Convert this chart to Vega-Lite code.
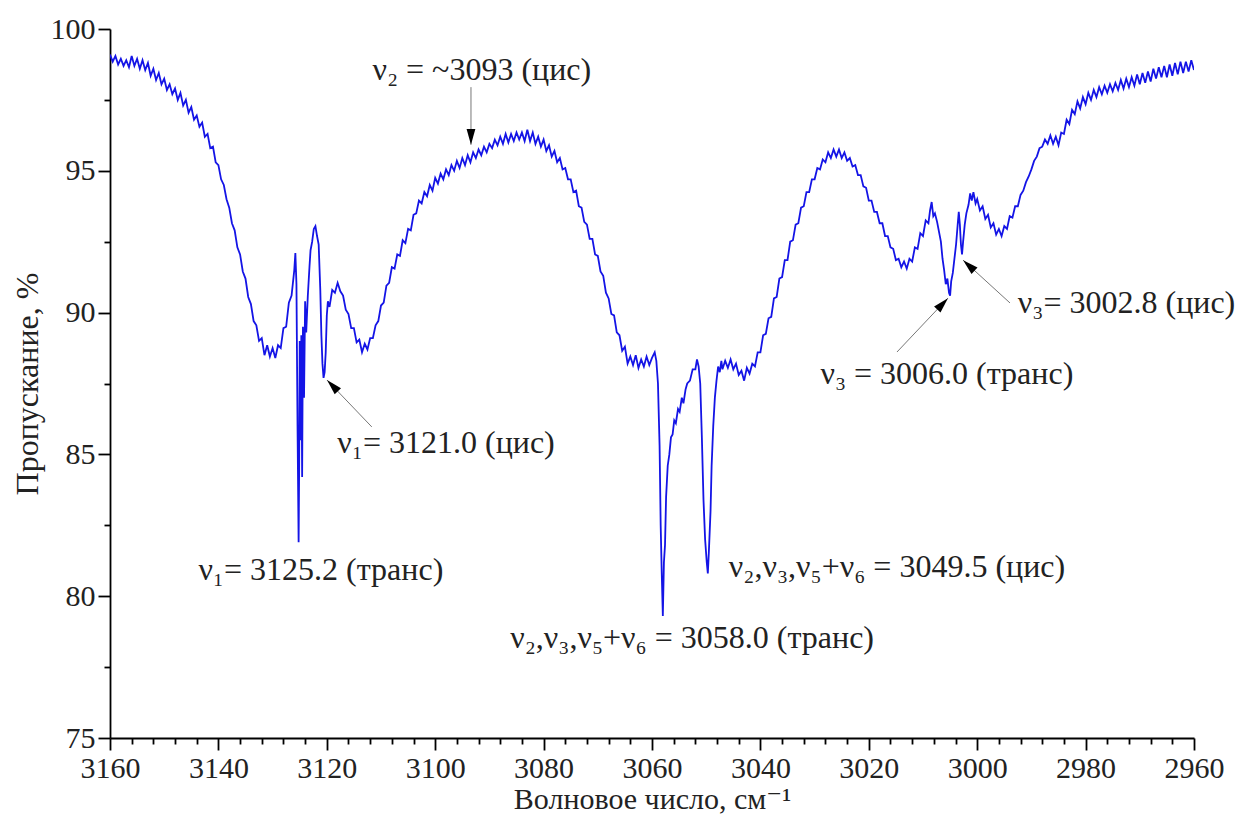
{
  "$schema": "https://vega.github.io/schema/vega-lite/v6.json",
  "width": 1084,
  "height": 709,
  "autosize": {"type": "none"},
  "padding": {"left": 110, "top": 29, "right": 49, "bottom": 85},
  "background": "white",
  "config": {"font": "'Liberation Serif', 'Times New Roman', 'DejaVu Serif', serif", "view": {"stroke": null}},
  "datasets": {
    "spec": [
      {"w":3160,"t":99.1},{"w":3159.5,"t":98.85},{"w":3159,"t":99.05},{"w":3158.5,"t":98.75},{"w":3158,"t":98.95},{"w":3157.5,"t":98.7},{"w":3157,"t":98.9},{"w":3156.5,"t":98.65},{"w":3156,"t":99.05},{"w":3155.5,"t":98.7},{"w":3155,"t":98.95},{"w":3154.5,"t":98.6},{"w":3154,"t":98.9},{"w":3153.5,"t":98.55},{"w":3153,"t":98.8},{"w":3152.5,"t":98.35},{"w":3152,"t":98.6},{"w":3151.5,"t":98.2},{"w":3151,"t":98.45},{"w":3150.5,"t":98.05},{"w":3150,"t":98.25},{"w":3149.5,"t":97.85},{"w":3149,"t":98.05},{"w":3148.5,"t":97.7},{"w":3148,"t":97.9},{"w":3147.5,"t":97.5},{"w":3147,"t":97.75},{"w":3146.5,"t":97.3},{"w":3146,"t":97.5},{"w":3145.5,"t":97.05},{"w":3145,"t":97.25},{"w":3144.5,"t":96.8},{"w":3144,"t":96.95},{"w":3143.5,"t":96.55},{"w":3143,"t":96.7},{"w":3142.5,"t":96.2},{"w":3142,"t":96.3},{"w":3141.5,"t":95.8},{"w":3141,"t":95.85},{"w":3140.5,"t":95.3},{"w":3140,"t":95.2},{"w":3139.5,"t":94.7},{"w":3139,"t":94.5},{"w":3138.5,"t":94.0},{"w":3138,"t":93.7},{"w":3137.5,"t":93.15},{"w":3137,"t":92.9},{"w":3136.5,"t":92.3},{"w":3136,"t":92.05},{"w":3135.5,"t":91.45},{"w":3135,"t":91.2},{"w":3134.5,"t":90.55},{"w":3134,"t":90.3},{"w":3133.5,"t":89.7},{"w":3133,"t":89.55},{"w":3132.5,"t":89.0},{"w":3132,"t":89.1},{"w":3131.5,"t":88.5},{"w":3131,"t":88.85},{"w":3130.5,"t":88.45},{"w":3130,"t":88.75},{"w":3129.5,"t":88.4},{"w":3129,"t":88.85},{"w":3128.5,"t":88.75},{"w":3128,"t":89.45},{"w":3127.5,"t":89.5},{"w":3127,"t":90.35},{"w":3126.5,"t":90.6},{"w":3126,"t":91.5},{"w":3125.8,"t":92.1},{"w":3125.6,"t":91.0},{"w":3125.4,"t":86.0},{"w":3125.2,"t":81.9},{"w":3125.1,"t":84.5},{"w":3125.0,"t":89.0},{"w":3124.85,"t":85.5},{"w":3124.7,"t":89.2},{"w":3124.55,"t":84.2},{"w":3124.4,"t":89.5},{"w":3124.2,"t":87.0},{"w":3124.0,"t":90.4},{"w":3123.8,"t":89.3},{"w":3123.5,"t":90.6},{"w":3123.2,"t":91.6},{"w":3123,"t":92.2},{"w":3122.7,"t":92.5},{"w":3122.4,"t":92.95},{"w":3122.1,"t":93.05},{"w":3121.8,"t":92.7},{"w":3121.5,"t":92.4},{"w":3121.2,"t":90.8},{"w":3121,"t":89.2},{"w":3120.8,"t":88.2},{"w":3120.6,"t":87.7},{"w":3120.4,"t":87.9},{"w":3120.2,"t":88.6},{"w":3120,"t":89.9},{"w":3119.8,"t":90.4},{"w":3119.5,"t":90.2},{"w":3119,"t":90.8},{"w":3118.5,"t":90.7},{"w":3118,"t":91.05},{"w":3117.5,"t":90.75},{"w":3117,"t":90.6},{"w":3116.5,"t":90.1},{"w":3116,"t":89.95},{"w":3115.5,"t":89.45},{"w":3115,"t":89.45},{"w":3114.5,"t":88.95},{"w":3114,"t":89.05},{"w":3113.5,"t":88.6},{"w":3113,"t":88.9},{"w":3112.5,"t":88.7},{"w":3112,"t":89.1},{"w":3111.5,"t":89.1},{"w":3111,"t":89.55},{"w":3110.5,"t":89.7},{"w":3110,"t":90.25},{"w":3109.5,"t":90.35},{"w":3109,"t":90.95},{"w":3108.5,"t":91.05},{"w":3108,"t":91.6},{"w":3107.5,"t":91.55},{"w":3107,"t":92.05},{"w":3106.5,"t":92.0},{"w":3106,"t":92.55},{"w":3105.5,"t":92.45},{"w":3105,"t":92.95},{"w":3104.5,"t":92.9},{"w":3104,"t":93.45},{"w":3103.5,"t":93.5},{"w":3103,"t":93.95},{"w":3102.5,"t":93.85},{"w":3102,"t":94.25},{"w":3101.5,"t":94.1},{"w":3101,"t":94.5},{"w":3100.5,"t":94.3},{"w":3100,"t":94.75},{"w":3099.5,"t":94.55},{"w":3099,"t":94.9},{"w":3098.5,"t":94.7},{"w":3098,"t":95.05},{"w":3097.5,"t":94.85},{"w":3097,"t":95.2},{"w":3096.5,"t":95.0},{"w":3096,"t":95.35},{"w":3095.5,"t":95.1},{"w":3095,"t":95.45},{"w":3094.5,"t":95.2},{"w":3094,"t":95.55},{"w":3093.5,"t":95.3},{"w":3093,"t":95.65},{"w":3092.5,"t":95.45},{"w":3092,"t":95.75},{"w":3091.5,"t":95.55},{"w":3091,"t":95.85},{"w":3090.5,"t":95.65},{"w":3090,"t":95.95},{"w":3089.5,"t":95.8},{"w":3089,"t":96.1},{"w":3088.5,"t":95.9},{"w":3088,"t":96.2},{"w":3087.5,"t":95.95},{"w":3087,"t":96.3},{"w":3086.5,"t":96.0},{"w":3086,"t":96.3},{"w":3085.5,"t":96.05},{"w":3085,"t":96.35},{"w":3084.5,"t":96.1},{"w":3084,"t":96.35},{"w":3083.5,"t":96.05},{"w":3083,"t":96.45},{"w":3082.5,"t":96.05},{"w":3082,"t":96.35},{"w":3081.5,"t":95.95},{"w":3081,"t":96.2},{"w":3080.5,"t":95.85},{"w":3080,"t":96.1},{"w":3079.5,"t":95.7},{"w":3079,"t":95.9},{"w":3078.5,"t":95.5},{"w":3078,"t":95.7},{"w":3077.5,"t":95.3},{"w":3077,"t":95.45},{"w":3076.5,"t":95.05},{"w":3076,"t":95.1},{"w":3075.5,"t":94.7},{"w":3075,"t":94.7},{"w":3074.5,"t":94.25},{"w":3074,"t":94.3},{"w":3073.5,"t":93.75},{"w":3073,"t":93.7},{"w":3072.5,"t":93.2},{"w":3072,"t":93.1},{"w":3071.5,"t":92.6},{"w":3071,"t":92.6},{"w":3070.5,"t":92.05},{"w":3070,"t":92.0},{"w":3069.5,"t":91.45},{"w":3069,"t":91.3},{"w":3068.5,"t":90.7},{"w":3068,"t":90.5},{"w":3067.5,"t":89.95},{"w":3067,"t":89.9},{"w":3066.5,"t":89.3},{"w":3066,"t":89.2},{"w":3065.5,"t":88.65},{"w":3065,"t":88.8},{"w":3064.5,"t":88.2},{"w":3064,"t":88.45},{"w":3063.5,"t":88.15},{"w":3063,"t":88.5},{"w":3062.5,"t":88.05},{"w":3062,"t":88.35},{"w":3061.5,"t":88.1},{"w":3061,"t":88.45},{"w":3060.5,"t":88.15},{"w":3060,"t":88.4},{"w":3059.5,"t":88.6},{"w":3059.2,"t":88.3},{"w":3058.9,"t":87.5},{"w":3058.6,"t":85.3},{"w":3058.4,"t":82.5},{"w":3058.2,"t":80.8},{"w":3058.0,"t":79.3},{"w":3057.8,"t":81.2},{"w":3057.6,"t":81.8},{"w":3057.4,"t":83.5},{"w":3057.1,"t":84.6},{"w":3056.8,"t":85.0},{"w":3056.5,"t":85.6},{"w":3056.2,"t":85.7},{"w":3055.9,"t":86.2},{"w":3055.6,"t":86.1},{"w":3055.2,"t":86.6},{"w":3054.9,"t":86.5},{"w":3054.5,"t":87.0},{"w":3054.2,"t":86.8},{"w":3053.8,"t":87.3},{"w":3053.5,"t":87.5},{"w":3053,"t":87.6},{"w":3052.5,"t":88.0},{"w":3052,"t":88.0},{"w":3051.7,"t":88.35},{"w":3051.4,"t":88.1},{"w":3051.1,"t":87.5},{"w":3050.8,"t":85.6},{"w":3050.5,"t":83.4},{"w":3050.2,"t":82.0},{"w":3049.9,"t":81.2},{"w":3049.7,"t":80.8},{"w":3049.5,"t":81.6},{"w":3049.2,"t":83.0},{"w":3049.0,"t":84.6},{"w":3048.7,"t":86.0},{"w":3048.4,"t":87.0},{"w":3048.1,"t":87.6},{"w":3047.8,"t":88.1},{"w":3047.5,"t":87.9},{"w":3047.2,"t":88.3},{"w":3047,"t":88.0},{"w":3046.5,"t":88.3},{"w":3046,"t":88.05},{"w":3045.5,"t":88.35},{"w":3045,"t":88.0},{"w":3044.5,"t":88.2},{"w":3044,"t":87.8},{"w":3043.5,"t":87.95},{"w":3043,"t":87.6},{"w":3042.5,"t":88.05},{"w":3042,"t":87.85},{"w":3041.5,"t":88.2},{"w":3041,"t":88.1},{"w":3040.5,"t":88.6},{"w":3040,"t":88.6},{"w":3039.5,"t":89.2},{"w":3039,"t":89.25},{"w":3038.5,"t":89.8},{"w":3038,"t":89.85},{"w":3037.5,"t":90.5},{"w":3037,"t":90.55},{"w":3036.5,"t":91.2},{"w":3036,"t":91.25},{"w":3035.5,"t":91.85},{"w":3035,"t":91.85},{"w":3034.5,"t":92.5},{"w":3034,"t":92.55},{"w":3033.5,"t":93.1},{"w":3033,"t":93.15},{"w":3032.5,"t":93.7},{"w":3032,"t":93.75},{"w":3031.5,"t":94.25},{"w":3031,"t":94.25},{"w":3030.5,"t":94.7},{"w":3030,"t":94.7},{"w":3029.5,"t":95.1},{"w":3029,"t":95.05},{"w":3028.5,"t":95.4},{"w":3028,"t":95.3},{"w":3027.5,"t":95.65},{"w":3027,"t":95.45},{"w":3026.5,"t":95.75},{"w":3026,"t":95.5},{"w":3025.5,"t":95.75},{"w":3025,"t":95.45},{"w":3024.5,"t":95.65},{"w":3024,"t":95.35},{"w":3023.5,"t":95.45},{"w":3023,"t":95.15},{"w":3022.5,"t":95.2},{"w":3022,"t":94.85},{"w":3021.5,"t":94.85},{"w":3021,"t":94.45},{"w":3020.5,"t":94.4},{"w":3020,"t":93.95},{"w":3019.5,"t":93.95},{"w":3019,"t":93.55},{"w":3018.5,"t":93.55},{"w":3018,"t":93.15},{"w":3017.5,"t":93.15},{"w":3017,"t":92.7},{"w":3016.5,"t":92.7},{"w":3016,"t":92.3},{"w":3015.5,"t":92.25},{"w":3015,"t":91.85},{"w":3014.5,"t":91.9},{"w":3014,"t":91.6},{"w":3013.5,"t":91.8},{"w":3013,"t":91.55},{"w":3012.5,"t":91.9},{"w":3012,"t":91.8},{"w":3011.5,"t":92.3},{"w":3011,"t":92.25},{"w":3010.5,"t":92.8},{"w":3010,"t":92.7},{"w":3009.5,"t":93.25},{"w":3009,"t":93.15},{"w":3008.7,"t":93.6},{"w":3008.4,"t":93.9},{"w":3008.1,"t":93.4},{"w":3007.8,"t":93.5},{"w":3007.4,"t":93.2},{"w":3007,"t":92.8},{"w":3006.7,"t":92.5},{"w":3006.4,"t":91.9},{"w":3006.1,"t":91.5},{"w":3005.8,"t":91.0},{"w":3005.5,"t":91.2},{"w":3005.2,"t":90.7},{"w":3005.0,"t":90.6},{"w":3004.8,"t":91.1},{"w":3004.5,"t":91.4},{"w":3004.2,"t":91.9},{"w":3003.9,"t":92.4},{"w":3003.6,"t":93.1},{"w":3003.4,"t":93.55},{"w":3003.2,"t":93.1},{"w":3003.0,"t":92.4},{"w":3002.8,"t":92.05},{"w":3002.6,"t":92.5},{"w":3002.3,"t":93.1},{"w":3002.0,"t":93.5},{"w":3001.6,"t":93.8},{"w":3001.3,"t":94.2},{"w":3001.0,"t":93.95},{"w":3000.7,"t":94.25},{"w":3000.3,"t":93.85},{"w":3000,"t":94.0},{"w":2999.5,"t":93.6},{"w":2999,"t":93.75},{"w":2998.5,"t":93.3},{"w":2998,"t":93.45},{"w":2997.5,"t":93.0},{"w":2997,"t":93.15},{"w":2996.5,"t":92.75},{"w":2996,"t":92.95},{"w":2995.5,"t":92.7},{"w":2995,"t":93.05},{"w":2994.5,"t":92.95},{"w":2994,"t":93.4},{"w":2993.5,"t":93.35},{"w":2993,"t":93.75},{"w":2992.5,"t":93.75},{"w":2992,"t":94.15},{"w":2991.5,"t":94.3},{"w":2991,"t":94.6},{"w":2990.5,"t":94.8},{"w":2990,"t":95.05},{"w":2989.5,"t":95.35},{"w":2989,"t":95.5},{"w":2988.5,"t":95.8},{"w":2988,"t":95.85},{"w":2987.5,"t":96.1},{"w":2987,"t":95.95},{"w":2986.5,"t":96.25},{"w":2986,"t":95.95},{"w":2985.5,"t":96.2},{"w":2985,"t":95.9},{"w":2984.5,"t":96.35},{"w":2984,"t":96.3},{"w":2983.5,"t":96.8},{"w":2983,"t":96.65},{"w":2982.5,"t":97.15},{"w":2982,"t":97.0},{"w":2981.5,"t":97.45},{"w":2981,"t":97.2},{"w":2980.5,"t":97.6},{"w":2980,"t":97.35},{"w":2979.5,"t":97.75},{"w":2979,"t":97.5},{"w":2978.5,"t":97.85},{"w":2978,"t":97.6},{"w":2977.5,"t":97.95},{"w":2977,"t":97.7},{"w":2976.5,"t":98.0},{"w":2976,"t":97.75},{"w":2975.5,"t":98.05},{"w":2975,"t":97.8},{"w":2974.5,"t":98.1},{"w":2974,"t":97.85},{"w":2973.5,"t":98.2},{"w":2973,"t":97.9},{"w":2972.5,"t":98.25},{"w":2972,"t":97.95},{"w":2971.5,"t":98.3},{"w":2971,"t":98.0},{"w":2970.5,"t":98.4},{"w":2970,"t":98.05},{"w":2969.5,"t":98.45},{"w":2969,"t":98.1},{"w":2968.5,"t":98.5},{"w":2968,"t":98.15},{"w":2967.5,"t":98.6},{"w":2967,"t":98.25},{"w":2966.5,"t":98.65},{"w":2966,"t":98.3},{"w":2965.5,"t":98.7},{"w":2965,"t":98.3},{"w":2964.5,"t":98.75},{"w":2964,"t":98.35},{"w":2963.5,"t":98.8},{"w":2963,"t":98.4},{"w":2962.5,"t":98.85},{"w":2962,"t":98.45},{"w":2961.5,"t":98.85},{"w":2961,"t":98.5},{"w":2960.5,"t":98.9},{"w":2960,"t":98.55}
    ],
    "arrows": [
      {"id": "a", "w": 3093.4, "t": 95.92, "w2": 3093.4, "t2": 97.95},
      {"id": "b", "w": 3119.96, "t": 87.62, "w2": 3111.7, "t2": 85.97},
      {"id": "c", "w": 3005.4, "t": 90.51, "w2": 3014.8, "t2": 88.61},
      {"id": "d", "w": 3002.6, "t": 91.85, "w2": 2993.95, "t2": 90.34}
    ],
    "labels": [
      {"w": 3091.4, "t": 98.55, "text": "ν₂ = ~3093 (цис)"},
      {"w": 3098.0, "t": 85.4, "text": "ν₁= 3121.0 (цис)"},
      {"w": 3121.1, "t": 80.92, "text": "ν₁= 3125.2 (транс)"},
      {"w": 3052.6, "t": 78.53, "text": "ν₂,ν₃,ν₅+ν₆ = 3058.0 (транс)"},
      {"w": 3014.8, "t": 81.03, "text": "ν₂,ν₃,ν₅+ν₆ = 3049.5 (цис)"},
      {"w": 2972.45, "t": 90.34, "text": "ν₃= 3002.8 (цис)"},
      {"w": 3005.6, "t": 87.84, "text": "ν₃ = 3006.0 (транс)"}
    ]
  },
  "encoding": {
    "x": {
      "field": "w", "type": "quantitative",
      "scale": {"domain": [2960, 3160], "reverse": true, "nice": false, "zero": false},
      "axis": {
        "title": "Волновое число, см⁻¹",
        "format": "d",
        "values": [2960,2964,2968,2972,2976,2980,2984,2988,2992,2996,3000,3004,3008,3012,3016,3020,3024,3028,3032,3036,3040,3044,3048,3052,3056,3060,3064,3068,3072,3076,3080,3084,3088,3092,3096,3100,3104,3108,3112,3116,3120,3124,3128,3132,3136,3140,3144,3148,3152,3156,3160],
        "labelExpr": "datum.value % 20 === 0 ? datum.label : ''",
        "labelOverlap": false, "labelFlush": false, "labelBound": false,
        "grid": false, "domainColor": "black", "domainWidth": 1.8,
        "tickColor": "black", "tickWidth": 1.8,
        "tickSize": {"condition": {"test": "datum.value % 20 === 0", "value": 12}, "value": 6},
        "labelFont": "'Liberation Serif', 'Times New Roman', 'DejaVu Serif', serif", "labelFontSize": 30, "labelColor": "#222", "labelPadding": 3,
        "titleFont": "'Liberation Serif', 'Times New Roman', 'DejaVu Serif', serif", "titleFontSize": 30, "titleFontWeight": "normal", "titleColor": "#222", "titlePadding": 1
      }
    },
    "y": {
      "field": "t", "type": "quantitative",
      "scale": {"domain": [75, 100], "nice": false, "zero": false},
      "axis": {
        "title": "Пропускание, %",
        "values": [75,77.5,80,82.5,85,87.5,90,92.5,95,97.5,100],
        "labelExpr": "datum.value % 5 === 0 ? datum.label : ''",
        "labelOverlap": false, "labelFlush": false, "labelBound": false,
        "grid": false, "domainColor": "black", "domainWidth": 1.8,
        "tickColor": "black", "tickWidth": 1.8,
        "tickSize": {"condition": {"test": "datum.value % 5 === 0", "value": 12}, "value": 6},
        "labelFont": "'Liberation Serif', 'Times New Roman', 'DejaVu Serif', serif", "labelFontSize": 30, "labelColor": "#222", "labelPadding": 3,
        "titleFont": "'Liberation Serif', 'Times New Roman', 'DejaVu Serif', serif", "titleFontSize": 32, "titleFontWeight": "normal", "titleColor": "#222", "titlePadding": 6
      }
    }
  },
  "layer": [
    {
      "data": {"name": "spec"},
      "mark": {"type": "line", "color": "#1414e6", "strokeWidth": 1.8, "clip": true}
    },
    {
      "data": {"name": "arrows"},
      "mark": {"type": "rule", "color": "#777777", "strokeWidth": 1},
      "encoding": {
        "x2": {"field": "w2"},
        "y2": {"field": "t2"}
      }
    },
    {
      "data": {"name": "arrows"},
      "transform": [{"filter": "datum.id === 'a'"}],
      "mark": {"type": "point", "shape": "M0,0L-0.45,1.6L0.45,1.6Z", "size": 380, "filled": true, "color": "black", "opacity": 1, "angle": 180}
    },
    {
      "data": {"name": "arrows"},
      "transform": [{"filter": "datum.id === 'b'"}],
      "mark": {"type": "point", "shape": "M0,0L-0.45,1.6L0.45,1.6Z", "size": 380, "filled": true, "color": "black", "opacity": 1, "angle": -44}
    },
    {
      "data": {"name": "arrows"},
      "transform": [{"filter": "datum.id === 'c'"}],
      "mark": {"type": "point", "shape": "M0,0L-0.45,1.6L0.45,1.6Z", "size": 380, "filled": true, "color": "black", "opacity": 1, "angle": 43}
    },
    {
      "data": {"name": "arrows"},
      "transform": [{"filter": "datum.id === 'd'"}],
      "mark": {"type": "point", "shape": "M0,0L-0.45,1.6L0.45,1.6Z", "size": 380, "filled": true, "color": "black", "opacity": 1, "angle": -47}
    },
    {
      "data": {"name": "labels"},
      "mark": {"type": "text", "font": "'Liberation Serif', 'Times New Roman', 'DejaVu Serif', serif", "fontSize": 32, "color": "#222", "align": "center", "baseline": "middle"},
      "encoding": {
        "text": {"field": "text"}
      }
    }
  ]
}
